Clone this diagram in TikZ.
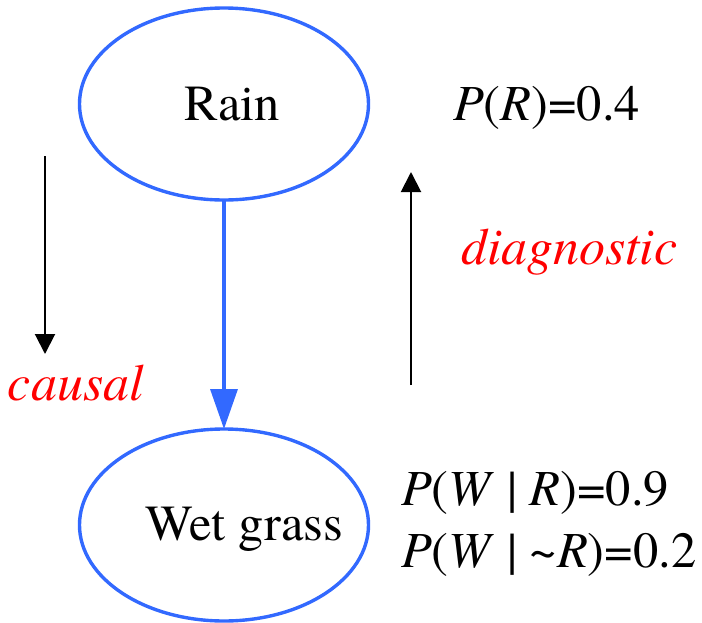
\documentclass[tikz,border=0pt]{standalone}
\usepackage{fontspec}
\setmainfont{texgyretermes}[Extension=.otf,UprightFont=*-regular,ItalicFont=*-italic,BoldFont=*-bold,BoldItalicFont=*-bolditalic]
\usetikzlibrary{shapes.geometric,arrows.meta}
\definecolor{netblue}{RGB}{50,105,255}
\definecolor{lblred}{RGB}{255,0,0}
\begin{document}
\begin{tikzpicture}[x=1pt,y=-1pt,
  every node/.style={inner sep=0pt,outer sep=0pt,font=\rmfamily\fontsize{50.5}{60}\selectfont},
  var/.style={draw=netblue,line width=3.4pt,ellipse,minimum width=289pt,minimum height=192pt},
  link/.style={draw=netblue,line width=3.4pt,-{Triangle[width=27pt,length=40pt]}},
  dirarrow/.style={line width=2pt,-{Triangle[width=20pt,length=20pt]}},
  redlbl/.style={text=lblred,font=\rmfamily\fontsize{52}{60}\selectfont\itshape,anchor=base west},
  prob/.style={anchor=base west}]
\useasboundingbox (0,0) rectangle (702,622);
\node[var] (rain) at (224,104) {};
\node[var] (wet) at (224,525) {};
\node[anchor=base] (rainlbl) at (232.5,120) {Rain};
\node[anchor=base] (wetlbl) at (244,540) {Wet grass};
\draw[link] (rain.south) -- (wet.north);
\coordinate (c1) at (45,156);
\coordinate (c2) at (45,354);
\draw[dirarrow] (c1) -- (c2);
\coordinate (d1) at (411,385);
\coordinate (d2) at (411,172);
\draw[dirarrow] (d1) -- (d2);
\node[redlbl] (causal) at (8,400) {causal};
\node[redlbl] (diag) at (461,264) {diagnostic};
\node[prob] (pr) at (453,120) {\textit{P}(\textit{R})=0.4};
\node[prob] (pw1) at (401,505) {\textit{P}(\textit{W} | \textit{R})=0.9};
\node[prob] (pw2) at (401,567) {\textit{P}(\textit{W} | \textasciitilde\textit{R})=0.2};
\end{tikzpicture}
\end{document}
